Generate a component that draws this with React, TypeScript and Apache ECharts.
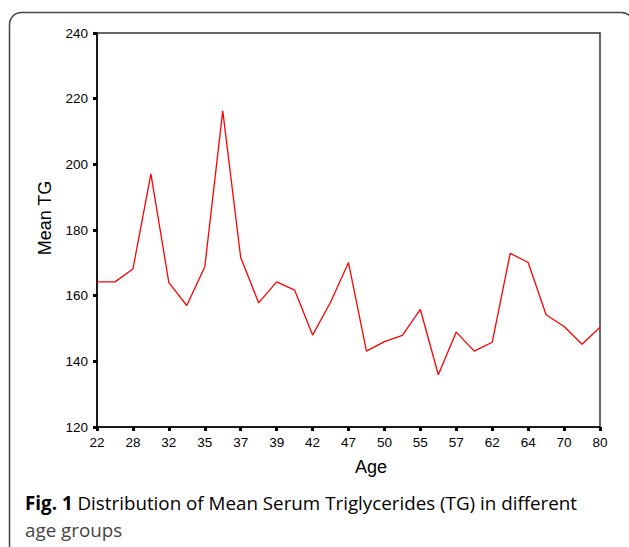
import React, { useEffect, useRef } from "react";
import * as echarts from "echarts";

const ages = [
  "22", "25", "28", "30", "32", "33", "35", "36", "37", "38", "39", "40", "42", "45", "47",
  "48", "50", "52", "55", "56", "57", "60", "62", "63", "64", "67", "70", "75", "80",
];
const meanTG = [
  164.2, 164.2, 168.1, 197.1, 164.0, 157.0, 168.8, 216.3, 171.6, 157.8, 164.2, 161.7, 148.0, 158.0, 170.1,
  143.1, 146.0, 147.9, 155.8, 135.9, 148.9, 143.1, 145.8, 172.9, 170.1, 154.2, 150.6, 145.2, 150.4,
];
const yTicks = { min: 120, max: 240, interval: 20 };
const xTitle = "Age";
const yTitle = "Mean TG";
const captionBold = "Fig. 1";
const captionLine1 = " Distribution of Mean Serum Triglycerides (TG) in different";
const captionLine2 = "age groups";

export default function App() {
  const ref = useRef<HTMLDivElement>(null);
  useEffect(() => {
    if (!ref.current) return;
    const chart = echarts.init(ref.current, undefined, { renderer: "svg" });
    const font = "'Liberation Sans', Arial, Helvetica, sans-serif";
    const capSize = 18.8;
    chart.setOption({
      animation: false,
      backgroundColor: "#ffffff",
      grid: {
        left: 97,
        right: 29,
        top: 33,
        bottom: 120,
        show: true,
        borderColor: "#333",
        borderWidth: 1.5,
        backgroundColor: "transparent",
      },
      xAxis: {
        type: "category",
        data: ages,
        boundaryGap: false,
        axisLine: { lineStyle: { color: "#000", width: 1.5 } },
        axisTick: { show: true, interval: 1, length: 4, lineStyle: { color: "#000", width: 3 } },
        axisLabel: { interval: 1, color: "#000", fontSize: 13.5, fontFamily: font, margin: 8 },
        splitLine: { show: false },
      },
      yAxis: {
        type: "value",
        min: yTicks.min,
        max: yTicks.max,
        interval: yTicks.interval,
        axisLine: { show: true, lineStyle: { color: "#000", width: 1.5 } },
        axisTick: { show: true, length: 4, lineStyle: { color: "#000", width: 3 } },
        axisLabel: { color: "#000", fontSize: 13.5, fontFamily: font, margin: 9 },
        splitLine: { show: false },
      },
      series: [
        {
          type: "line",
          data: meanTG,
          symbol: "none",
          lineStyle: { color: "#ff0000", width: 1.3 },
        },
      ],
      graphic: [
        {
          type: "rect",
          shape: { x: 9.5, y: 12.5, width: 624, height: 545, r: 12 },
          style: { fill: "none", stroke: "#444", lineWidth: 1.5 },
          silent: true,
        },
        {
          type: "text",
          x: 371,
          y: 467,
          style: {
            text: xTitle,
            font: `18px ${font}`,
            fill: "#000",
            textAlign: "center",
            textVerticalAlign: "middle",
          },
        },
        {
          type: "text",
          x: 45,
          y: 218,
          rotation: Math.PI / 2,
          style: {
            text: yTitle,
            font: `18px ${font}`,
            fill: "#000",
            textAlign: "center",
            textVerticalAlign: "middle",
          },
        },
        {
          type: "text",
          x: 25,
          y: 503,
          style: {
            text: `{b|${captionBold}}{r|${captionLine1}}`,
            textVerticalAlign: "middle",
            rich: {
              b: { fontFamily: "'Open Sans'", fontSize: capSize, fontWeight: "bold", color: "#333" },
              r: { fontFamily: "'Open Sans'", fontSize: capSize, color: "#444" },
            },
          },
        },
        {
          type: "text",
          x: 25,
          y: 530,
          style: {
            text: captionLine2,
            font: `${capSize}px 'Open Sans'`,
            fill: "#444",
            textVerticalAlign: "middle",
          },
        },
      ],
    });
    return () => chart.dispose();
  }, []);
  return (
    <div
      ref={ref}
      style={{ position: "fixed", left: 0, top: 0, width: 629, height: 547, background: "#fff" }}
    />
  );
}
